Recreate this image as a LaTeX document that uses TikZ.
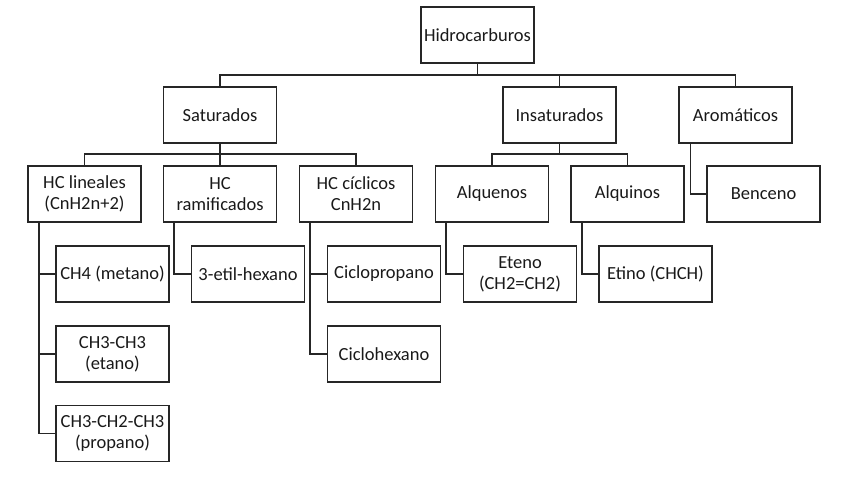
\documentclass[tikz,border=0pt]{standalone}
\usepackage{fontspec}
\setmainfont{Carlito}
\usepackage{tikz}

\begin{document}
\begin{tikzpicture}[x=1pt,y=-1pt,line width=1.3pt,
  box/.style={draw=black!85,text=black!90,minimum width=113pt,minimum height=56pt,
    align=center,inner sep=1pt,font=\fontsize{18.5}{21}\selectfont}]
  \useasboundingbox (0,0) rectangle (848,477);
  \node[box] (hidro) at (477.5,35) {Hidrocarburos};
  \node[box] (sat) at (220,115) {Saturados};
  \node[box] (ins) at (559.5,115) {Insaturados};
  \node[box] (aro) at (735.5,115) {Aromáticos};
  \node[box] (lin) at (84.5,194) {HC lineales\\(CnH2n+2)};
  \node[box] (ram) at (220,194) {HC\\ramificados};
  \node[box] (cic) at (356,194) {HC cíclicos\\CnH2n};
  \node[box] (alqe) at (492,194) {Alquenos};
  \node[box] (alqi) at (627.5,194) {Alquinos};
  \node[box] (benc) at (763.5,194) {Benceno};
  \node[box] (ch4) at (112.5,274) {CH4 (metano)};
  \node[box] (etano) at (112.5,354) {CH3-CH3\\(etano)};
  \node[box] (propano) at (112.5,433.5) {CH3-CH2-CH3\\(propano)};
  \node[box] (etil) at (248,274) {3-etil-hexano};
  \node[box] (ciclop) at (384,274) {Ciclopropano};
  \node[box] (ciclohex) at (384,354) {Ciclohexano};
  \node[box] (eteno) at (520,274) {Eteno\\(CH2=CH2)};
  \node[box] (etino) at (655.5,274) {Etino (CHCH)};
  \coordinate (bus1) at (477.5,75);
  \coordinate (bus2) at (220,154);
  \coordinate (bus3) at (559.5,154);
  \draw[black!85] (hidro.south) -- (bus1);
  \draw[black!85] (sat.north) |- (bus1) -| (aro.north);
  \draw[black!85] (ins.north) -- (ins.north |- bus1);
  \draw[black!85] (sat.south) -- (bus2);
  \draw[black!85] (lin.north) |- (bus2) -| (cic.north);
  \draw[black!85] (ram.north) -- (bus2);
  \draw[black!85] (ins.south) -- (bus3);
  \draw[black!85] (alqe.north) |- (bus3) -| (alqi.north);
  \draw[black!85] ([xshift=12pt]aro.south west) |- (benc.west);
  \foreach \c in {ch4, etano, propano}
    \draw[black!85] ([xshift=11.5pt]lin.south west) |- (\c.west);
  \draw[black!85] ([xshift=11pt]ram.south west) |- (etil.west);
  \foreach \c in {ciclop, ciclohex}
    \draw[black!85] ([xshift=11pt]cic.south west) |- (\c.west);
  \draw[black!85] ([xshift=11pt]alqe.south west) |- (eteno.west);
  \draw[black!85] ([xshift=11.5pt]alqi.south west) |- (etino.west);
\end{tikzpicture}
\end{document}
